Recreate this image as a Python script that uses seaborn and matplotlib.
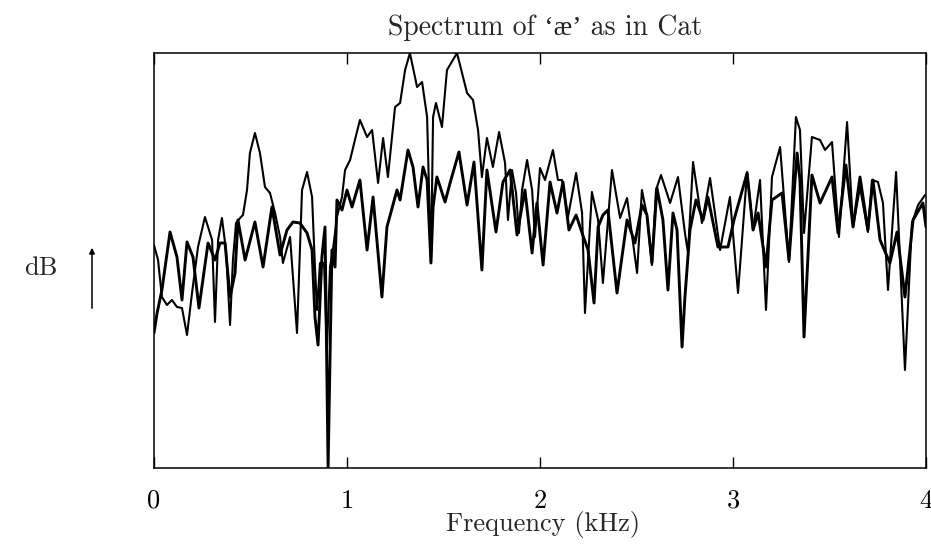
import matplotlib
matplotlib.use("Agg")
import matplotlib.pyplot as plt
import seaborn as sns
import pandas as pd

# Spectrum with formant peaks (kHz, relative level)
freq_a = [0.000, 0.021, 0.041, 0.067, 0.093, 0.119, 0.145, 0.171, 0.197, 0.228,
          0.264, 0.301, 0.316, 0.332, 0.352, 0.373, 0.394, 0.409, 0.425, 0.446,
          0.461, 0.482, 0.497, 0.523, 0.549, 0.575, 0.601, 0.627, 0.653, 0.668,
          0.705, 0.741, 0.767, 0.793, 0.819, 0.834, 0.845, 0.860, 0.881, 0.896,
          0.912, 0.927, 0.948, 0.974, 0.990, 1.016, 1.041, 1.067, 1.104, 1.130,
          1.161, 1.187, 1.212, 1.249, 1.275, 1.301, 1.326, 1.363, 1.389, 1.415,
          1.435, 1.446, 1.461, 1.492, 1.518, 1.570, 1.622, 1.653, 1.679, 1.699,
          1.725, 1.756, 1.788, 1.819, 1.834, 1.855, 1.876, 1.891, 1.907, 1.933,
          1.959, 1.974, 2.000, 2.026, 2.067, 2.093, 2.114, 2.145, 2.187, 2.218,
          2.233, 2.269, 2.301, 2.326, 2.373, 2.415, 2.451, 2.503, 2.528, 2.554,
          2.580, 2.601, 2.627, 2.674, 2.715, 2.751, 2.767, 2.793, 2.839, 2.881,
          2.933, 2.984, 3.026, 3.073, 3.104, 3.140, 3.171, 3.202, 3.244, 3.290,
          3.326, 3.347, 3.368, 3.409, 3.451, 3.477, 3.513, 3.549, 3.591, 3.622,
          3.658, 3.699, 3.720, 3.751, 3.777, 3.803, 3.845, 3.891, 3.927, 3.959,
          3.995]
level_a = [44.6, 41.6, 34.2, 32.6, 33.6, 32.2, 32.0, 26.6, 35.0, 44.2,
           50.2, 45.6, 29.2, 45.6, 50.0, 43.6, 28.6, 41.6, 49.0, 50.0,
           50.6, 55.6, 63.0, 67.0, 63.0, 56.2, 55.0, 51.0, 46.2, 41.0,
           46.2, 27.0, 55.6, 59.2, 54.2, 40.2, 31.6, 41.0, 41.0, 23.6,
           40.2, 43.6, 50.2, 54.2, 59.6, 61.6, 65.6, 69.6, 66.2, 67.6,
           57.0, 66.0, 58.2, 72.2, 73.0, 79.6, 83.0, 76.2, 77.2, 70.2,
           41.0, 70.2, 73.0, 68.2, 79.6, 83.0, 75.0, 73.6, 67.6, 58.2,
           66.0, 60.2, 67.2, 61.0, 49.6, 59.6, 55.0, 47.0, 55.6, 61.6,
           55.6, 46.2, 60.0, 57.6, 63.6, 57.6, 57.6, 50.2, 59.0, 51.0,
           31.0, 55.2, 49.6, 37.0, 59.6, 50.0, 54.0, 39.0, 55.6, 50.6,
           40.6, 55.6, 58.6, 53.0, 58.2, 47.0, 43.0, 61.2, 49.0, 58.0,
           43.6, 54.2, 35.0, 59.2, 47.6, 57.6, 31.6, 58.2, 64.2, 41.2,
           70.2, 67.6, 47.0, 66.2, 65.6, 63.6, 65.2, 46.2, 69.2, 48.2,
           56.2, 47.2, 57.6, 57.2, 53.0, 35.6, 59.2, 19.6, 49.0, 52.6,
           54.6]

# Smoother spectrum (kHz, relative level)
freq_b = [0.000, 0.016, 0.041, 0.083, 0.119, 0.145, 0.171, 0.202, 0.233, 0.280,
          0.316, 0.342, 0.368, 0.394, 0.420, 0.435, 0.472, 0.523, 0.565, 0.611,
          0.653, 0.689, 0.720, 0.756, 0.793, 0.819, 0.834, 0.850, 0.870, 0.886,
          0.902, 0.922, 0.938, 0.948, 0.974, 1.000, 1.026, 1.067, 1.104, 1.135,
          1.181, 1.207, 1.259, 1.275, 1.316, 1.342, 1.368, 1.394, 1.415, 1.435,
          1.446, 1.466, 1.508, 1.534, 1.580, 1.622, 1.658, 1.699, 1.725, 1.772,
          1.808, 1.845, 1.881, 1.922, 1.959, 1.984, 2.016, 2.052, 2.088, 2.119,
          2.150, 2.187, 2.218, 2.249, 2.280, 2.301, 2.326, 2.352, 2.399, 2.451,
          2.492, 2.528, 2.554, 2.580, 2.606, 2.637, 2.663, 2.689, 2.710, 2.736,
          2.751, 2.777, 2.808, 2.845, 2.870, 2.922, 2.974, 3.005, 3.073, 3.104,
          3.130, 3.171, 3.202, 3.254, 3.290, 3.332, 3.347, 3.368, 3.409, 3.451,
          3.513, 3.544, 3.585, 3.622, 3.658, 3.699, 3.725, 3.762, 3.813, 3.850,
          3.891, 3.933, 3.984, 4.000]
level_b = [27.0, 31.0, 35.6, 47.2, 42.2, 33.6, 45.2, 42.2, 32.0, 45.0,
           41.6, 45.0, 45.0, 34.2, 39.0, 49.6, 41.6, 49.2, 40.2, 52.2,
           42.6, 47.6, 49.2, 49.0, 47.0, 43.6, 30.2, 24.6, 42.2, 48.2,
           0.2, 43.6, 40.2, 53.6, 51.6, 55.6, 52.2, 57.6, 43.6, 54.2,
           34.2, 48.2, 55.6, 53.6, 63.6, 60.2, 52.2, 60.2, 57.6, 41.0,
           52.2, 58.2, 53.2, 57.0, 63.2, 52.6, 61.2, 39.6, 59.6, 47.2,
           57.2, 59.6, 46.6, 55.6, 43.0, 53.0, 40.6, 57.2, 51.0, 57.2,
           47.6, 50.6, 47.0, 43.6, 33.0, 48.2, 50.6, 51.6, 35.0, 49.6,
           45.0, 52.6, 50.6, 41.0, 56.0, 49.6, 35.6, 51.0, 47.6, 24.2,
           34.2, 47.6, 53.6, 49.6, 54.2, 44.2, 44.2, 49.6, 59.0, 47.6,
           51.0, 40.2, 53.6, 55.0, 41.6, 63.0, 57.6, 26.2, 58.6, 53.0,
           58.2, 47.0, 60.6, 48.2, 58.2, 47.6, 57.6, 45.6, 41.0, 47.2,
           34.2, 49.6, 53.0, 48.2]

x_ticks = [0, 1, 2, 3, 4]
x_tick_labels = ["0", "1", "2", "3", "4"]
title_text = "Spectrum of \u2018\u00e6\u2019 as in Cat"
x_label = "Frequency (kHz)"
y_label = "dB"

FONTS = ["cmr10", "Liberation Serif", "DejaVu Serif"]

sns.set_theme(style="white")
plt.rcParams["font.family"] = FONTS
plt.rcParams["axes.unicode_minus"] = False

df_a = pd.DataFrame({"freq": freq_a, "level": level_a})
df_b = pd.DataFrame({"freq": freq_b, "level": level_b})

fig = plt.figure(figsize=(9.31, 5.44), dpi=100)
ax = fig.add_axes([154 / 931, 76 / 544, 772 / 931, 415 / 544])

sns.lineplot(data=df_a, x="freq", y="level", color="black", lw=1.5,
             estimator=None, sort=False, ax=ax)
sns.lineplot(data=df_b, x="freq", y="level", color="black", lw=2.1,
             estimator=None, sort=False, ax=ax)

ax.set_xlim(0, 4)
ax.set_ylim(0, 83)
ax.set_xticks(x_ticks)
ax.set_xticklabels(x_tick_labels)
ax.set_yticks([])
ax.set_xlabel("")
ax.set_ylabel("")
ax.tick_params(axis="x", direction="in", length=8, width=1.0, top=True,
               bottom=True, labelsize=19, pad=15, colors="black")
for sp in ax.spines.values():
    sp.set_visible(True)
    sp.set_color("black")
    sp.set_linewidth(1.1)

fig.text(545 / 931, 1 - 28 / 544, title_text, ha="center", va="center",
         fontsize=20, family=FONTS)
fig.text(543 / 931, 1 - 525 / 544, x_label, ha="center", va="center",
         fontsize=19, family=FONTS)
fig.text(41 / 931, 1 - 268 / 544, y_label, ha="center", va="center",
         fontsize=19, family=FONTS)
ax.annotate("", xy=(92, 544 - 245), xycoords="figure pixels",
            xytext=(92, 544 - 311), textcoords="figure pixels",
            arrowprops=dict(arrowstyle="-|>", color="black", lw=1.1,
                            mutation_scale=8))

fig.savefig("out.png", dpi=100)
